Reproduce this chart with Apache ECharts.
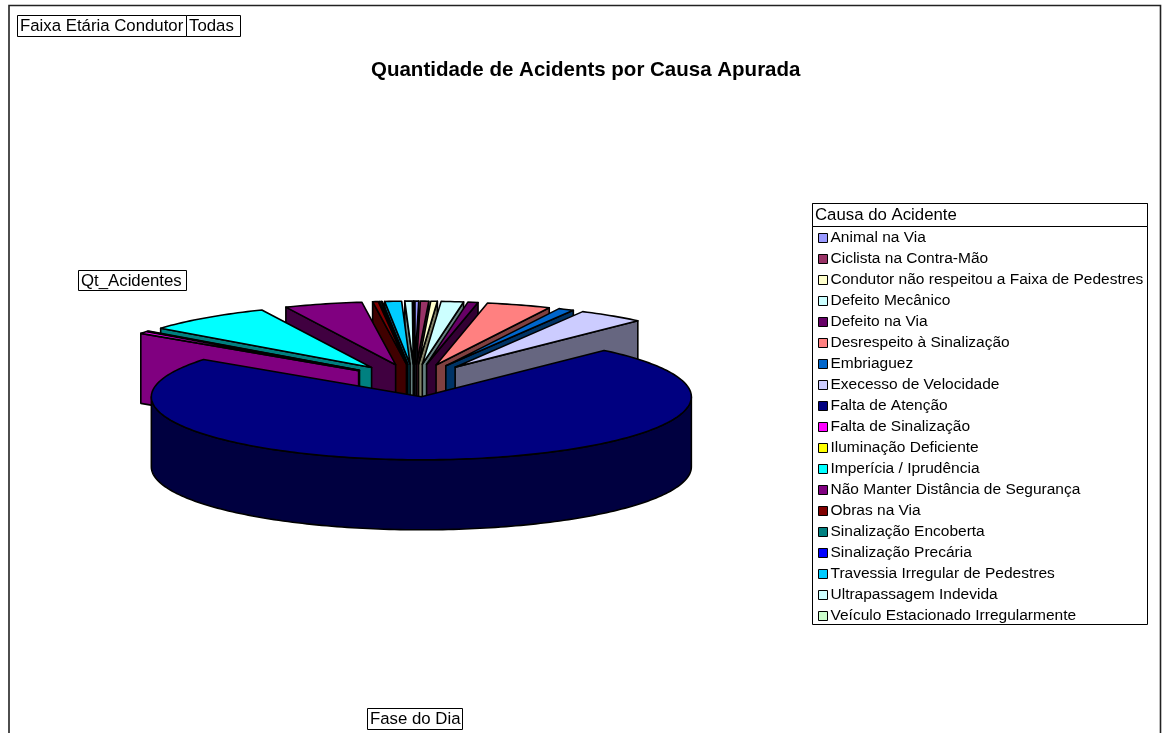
<!DOCTYPE html>
<html><head><meta charset="utf-8">
<style>html,body{margin:0;padding:0;background:#fff}#c{width:1162px;height:733px}</style>
<script src="https://cdn.jsdelivr.net/npm/echarts@6/dist/echarts.min.js"></script>
</head><body><div id="c"></div>
<script>
const categories = ['Animal na Via','Ciclista na Contra-Mão','Condutor não respeitou a Faixa de Pedestres','Defeito Mecânico','Defeito na Via','Desrespeito à Sinalização','Embriaguez','Execesso de Velocidade','Falta de Atenção','Falta de Sinalização','Iluminação Deficiente','Imperícia / Iprudência','Não Manter Distância de Segurança','Obras na Via','Sinalização Encoberta','Sinalização Precária','Travessia Irregular de Pedestres','Ultrapassagem Indevida','Veículo Estacionado Irregularmente'];
const values = [4,9,7,24,11,69,17,72,1319,10,2,137,84,6,2,1,18,8,1];
const colors = ['#9999FF','#993366','#FFFFCC','#CCFFFF','#660066','#FF8080','#0066CC','#CCCCFF','#000080','#FF00FF','#FFFF00','#00FFFF','#800080','#800000','#008080','#0000FF','#00CCFF','#CCFFFF','#CCFFCC'];
const titleText = 'Quantidade de Acidents por Causa Apurada';
const legendTitle = 'Causa do Acidente';

const FONT = '"Liberation Sans", Arial, sans-serif';
const CX = 414.5, CY = 380.5, RX = 270, RY = 63, DEPTH = 70, EXPLODE = 0.26;
const total = values.reduce((a, b) => a + b, 0);
let acc = 0;
const spans = values.map(v => { const s = acc; acc += v; return [s / total * 2 * Math.PI, acc / total * 2 * Math.PI]; });
const project = (a, r, ox, oy) => [ox + RX * r * Math.sin(a), oy - RY * r * Math.cos(a)];
function darken(hex) {
  const n = parseInt(hex.slice(1), 16);
  const f = c => Math.round(c / 2);
  return 'rgb(' + f(n >> 16 & 255) + ',' + f(n >> 8 & 255) + ',' + f(n & 255) + ')';
}
function arc(a0, a1, ox, oy) {
  const n = Math.max(2, Math.ceil((a1 - a0) / 0.02));
  const pts = [];
  for (let i = 0; i <= n; i++) pts.push(project(a0 + (a1 - a0) * i / n, 1, ox, oy));
  return pts;
}
const sty = fill => ({ fill: fill, stroke: '#000', lineWidth: 1.6, lineJoin: 'round' });
function slice(idx) {
  return function (params, api) {
    const v = api.value(0);
    const a0 = spans[idx][0], a1 = a0 + v / total * 2 * Math.PI, mid = (a0 + a1) / 2;
    const ox = CX + RX * EXPLODE * Math.sin(mid), oy = CY - RY * EXPLODE * Math.cos(mid);
    const kids = [];
    const poly = (pts, fill) => kids.push({ type: 'polygon', shape: { points: pts }, style: sty(fill) });
    const dark = darken(colors[idx]);
    const wall = a => {
      const t = project(a, 1, ox, oy);
      poly([[ox, oy], t, [t[0], t[1] + DEPTH], [ox, oy + DEPTH]], dark);
    };
    if (Math.sin(a0) < 0) wall(a0);
    if (Math.sin(a1) > 0) wall(a1);
    const f0 = Math.max(a0, Math.PI / 2), f1 = Math.min(a1, 3 * Math.PI / 2);
    if (f1 > f0) {
      const top = arc(f0, f1, ox, oy);
      const bot = top.map(p => [p[0], p[1] + DEPTH]).reverse();
      poly(top.concat(bot), dark);
    }
    poly([[ox, oy]].concat(arc(a0, a1, ox, oy)), colors[idx]);
    return { type: 'group', children: kids };
  };
}
// paint order: slices nearest the back first
const depthRank = spans.map(s => Math.cos((s[0] + s[1]) / 2));
const series = categories.map((name, i) => ({
  type: 'custom', name, coordinateSystem: 'none', data: [[values[i]]],
  renderItem: slice(i), silent: true, animation: false, clip: false,
  itemStyle: { color: colors[i] },
  z: 10 + (1 - depthRank[i]) * 100
}));
const box = (x, y, w, h, text) => ({
  type: 'group', silent: true, children: [
    { type: 'rect', shape: { x: x + 0.5, y: y + 0.5, width: w, height: h }, style: { fill: '#fff', stroke: '#000', lineWidth: 1 } },
    { type: 'text', x: x + 3, y: y + h / 2 + 1, style: { text, font: '16.8px ' + FONT, fill: '#000', textVerticalAlign: 'middle', textBaseline: 'middle' } }
  ]
});
const chart = echarts.init(document.getElementById('c'), null, { renderer: 'canvas' });
chart.setOption({
  animation: false,
  backgroundColor: '#fff',
  title: { text: titleText, left: 366, top: 55, textStyle: { fontFamily: FONT, fontSize: 20.5, fontWeight: 'bold', color: '#000' } },
  legend: {
    orient: 'vertical', left: 818, top: 230, data: categories, icon: 'rect',
    itemWidth: 9, itemHeight: 9, itemGap: 5, padding: 0, selectedMode: false, z: 300,
    itemStyle: { borderColor: '#000', borderWidth: 1 },
    textStyle: { fontFamily: FONT, fontSize: 15.5, color: '#000', lineHeight: 15, padding: [0, 0, 0, -2] }
  },
  graphic: { elements: [
    { type: 'polyline', silent: true, z: -1, shape: { points: [[9, 770], [9, 5.5], [1160.5, 5.5], [1160.5, 770]] }, style: { fill: null, stroke: '#222', lineWidth: 1.6 } },
    { type: 'rect', silent: true, z: -1, shape: { x: 812.5, y: 203.5, width: 335, height: 421 }, style: { fill: '#fff', stroke: '#000', lineWidth: 1 } },
    box(812, 203, 335, 23, legendTitle),
    box(17, 15, 169, 21, 'Faixa Etária Condutor'),
    box(186, 15, 54, 21, 'Todas'),
    box(78, 270, 108, 20, 'Qt_Acidentes'),
    box(367, 708, 95, 21, 'Fase do Dia')
  ] },
  series
});
</script></body></html>
